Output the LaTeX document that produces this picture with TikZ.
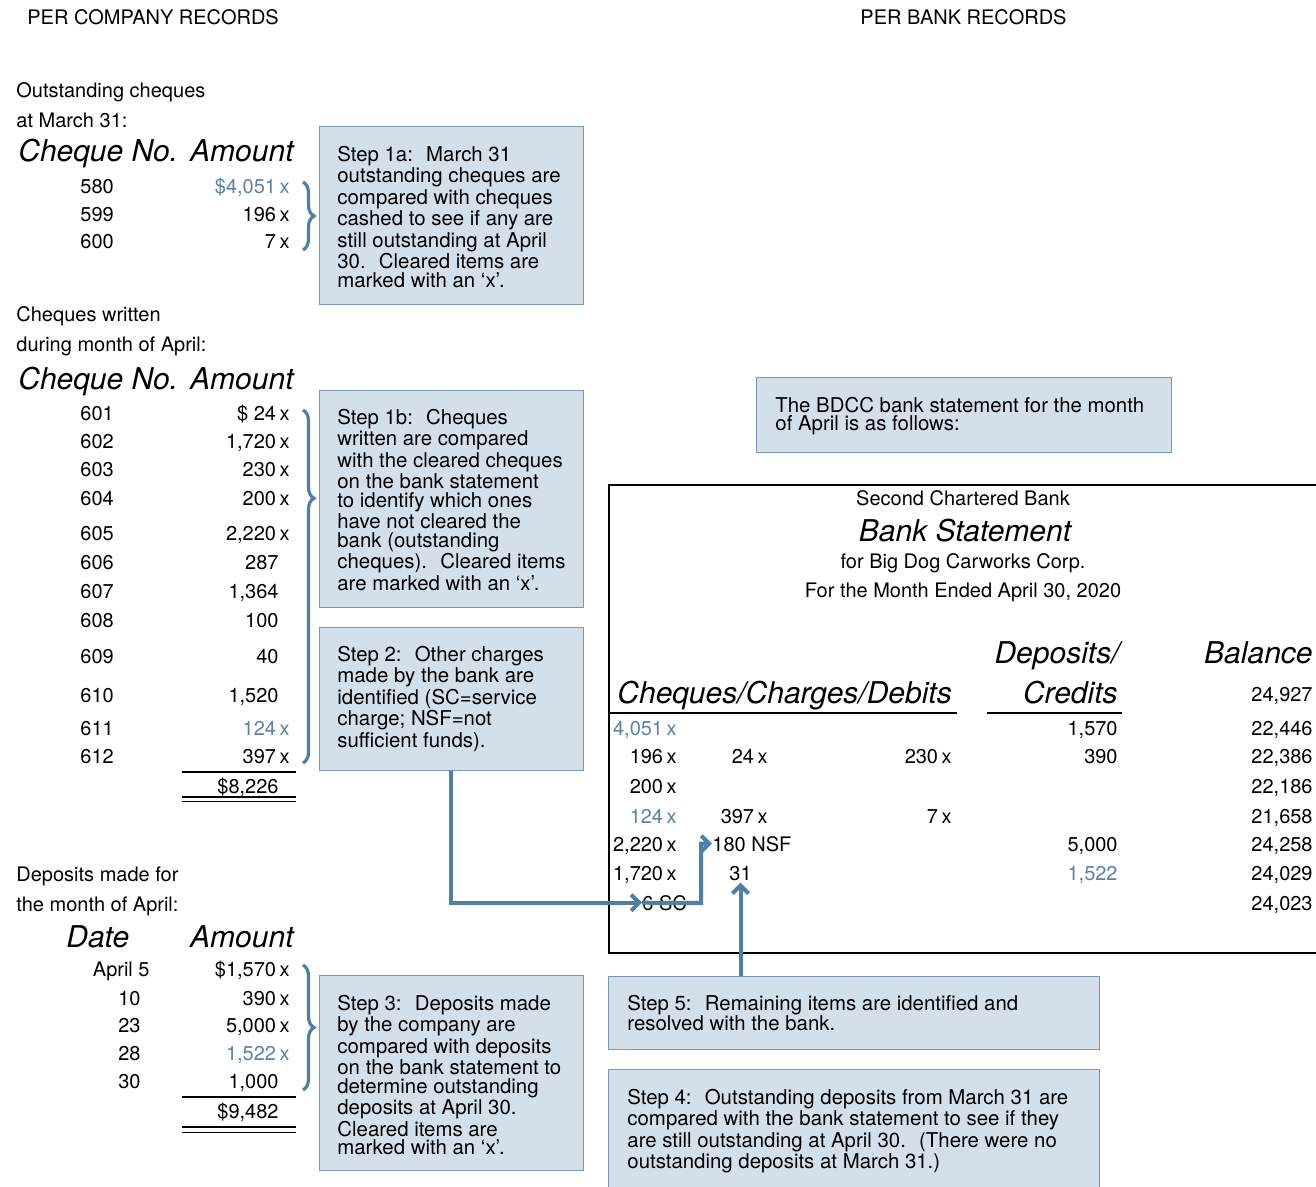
\documentclass[tikz,border=0pt]{standalone}
\usepackage{fontspec}
\setmainfont{TeX Gyre Heros}
\usetikzlibrary{positioning, fit, arrows.meta, decorations.pathreplacing}
\definecolor{markblue}{RGB}{86,131,172}
\definecolor{linkblue}{RGB}{79,126,166}
\definecolor{boxfill}{RGB}{211,223,233}
\definecolor{boxline}{RGB}{120,152,185}
\newcommand{\xm}{\hspace{1.75pt}x}

\begin{document}
\begin{tikzpicture}[x=0.5pt, y=-0.5pt,
    every node/.style={inner sep=0pt, font=\fontsize{10}{10.75}\selectfont},
    txt/.style={anchor=base west},
    num/.style={anchor=base east},
    head/.style={anchor=base west, font=\fontsize{15}{18}\selectfont\itshape},
    stepbox/.style={draw=boxline, fill=boxfill, line width=0.5pt},
    steptext/.style={anchor=north west, align=left, font=\fontsize{10.2}{10.75}\selectfont},
    cbrace/.style={draw=linkblue, line width=1.6pt, decorate, decoration={brace, amplitude=5.5pt}},
    flow/.style={draw=linkblue, line width=2pt, -{Straight Barb[length=4pt, width=8pt]}},
    rule/.style={line width=0.8pt}]
    \useasboundingbox (0,0) rectangle (1316,1187);
    \clip (0,0) rectangle (1316,1187);

    % titles
    \node[txt] (compHead) at (27,25) {PER COMPANY RECORDS};
    \node[txt] (bankHead) at (860,25) {PER BANK RECORDS};

    % outstanding cheques at March 31
    \node[txt] (osLabA) at (16,98) {Outstanding cheques};
    \node[txt] (osLabB) at (16,128) {at March 31:};
    \node[head] (osNo) at (18,162) {Cheque No.};
    \node[head, anchor=base east] (osAmt) at (294,162) {Amount};
    \foreach \no/\y/\amt/\rx/\col in {580/194/{\$4,051\xm}/290/markblue,
        599/222/{196\xm}/290/black, 600/249/{7\xm}/290/black}{
      \node[txt] (os\no) at (80,\y) {\no};
      \node[num, text=\col] (osa\no) at (\rx,\y) {\amt};
    }
    \draw[cbrace] (303,182) -- (303,250);

    % cheques written in April
    \node[txt] (cwLabA) at (16,322) {Cheques written};
    \node[txt] (cwLabB) at (16,352) {during month of April:};
    \node[head] (cwNo) at (18,389) {Cheque No.};
    \node[head, anchor=base east] (cwAmt) at (294,389) {Amount};
    \foreach \no/\y/\amt/\rx/\col in {601/421/{\$ 24\xm}/290/black,
        602/448/{1,720\xm}/290/black, 603/476/{230\xm}/290/black,
        604/505/{200\xm}/290/black, 605/540/{2,220\xm}/290/black,
        606/569/{287}/279/black, 607/598/{1,364}/279/black,
        608/627/{100}/279/black, 609/663/{40}/279/black,
        610/702/{1,520}/279/black, 611/735/{124\xm}/290/markblue,
        612/763/{397\xm}/290/black}{
      \node[txt] (cw\no) at (80,\y) {\no};
      \node[num, text=\col] (cwa\no) at (\rx,\y) {\amt};
    }
    \draw[cbrace, decoration={aspect=0.25}] (303,410) -- (303,763);
    \draw[rule] (182,772) -- (296,772);
    \node[num] (cwTot) at (279,793) {\$8,226};
    \draw[rule] (182,797) -- (296,797) (182,801.5) -- (296,801.5);

    % deposits in April
    \node[txt] (dpLabA) at (16,881) {Deposits made for};
    \node[txt] (dpLabB) at (16,911) {the month of April:};
    \node[head] (dpDate) at (66,947) {Date};
    \node[head, anchor=base east] (dpAmt) at (294,947) {Amount};
    \foreach \d/\dx/\y/\amt/\rx/\col [count=\i] in {{April 5}/150/976/{\$1,570\xm}/290/black,
        10/141/1005/{390\xm}/290/black, 23/141/1032/{5,000\xm}/290/black,
        28/141/1060/{1,522\xm}/290/markblue, 30/141/1088/{1,000}/279/black}{
      \node[num] (dp\i) at (\dx,\y) {\d};
      \node[num, text=\col] (dpa\i) at (\rx,\y) {\amt};
    }
    \draw[cbrace] (303,965) -- (303,1090);
    \draw[rule] (182,1097) -- (296,1097);
    \node[num] (dpTot) at (279,1118) {\$9,482};
    \draw[rule] (182,1127) -- (296,1127) (182,1132.5) -- (296,1132.5);

    % step boxes
    \node[stepbox, fit={(319,127) (583,305)}] (stepOneA) {};
    \node[steptext] (stepOneAText) at (337,145.5) {Step 1a:~ March 31\\
      outstanding cheques are\\ compared with cheques\\ cashed to see if any are\\
      still outstanding at April\\ 30.~ Cleared items are\\[-1.5pt] marked with an ‘x’.};
    \node[stepbox, fit={(319,390) (583,607)}] (stepOneB) {};
    \node[steptext] (stepOneBText) at (337,408.5) {Step 1b:~ Cheques\\
      written are compared\\ with the cleared cheques\\ on the bank statement\\[-1.5pt]
      to identify which ones\\ have not cleared the\\[-1.5pt] bank (outstanding\\
      cheques).~ Cleared items\\ are marked with an ‘x’.};
    \node[stepbox, fit={(319,627) (583,770)}] (stepTwo) {};
    \node[steptext] (stepTwoText) at (337,645.5) {Step 2:~ Other charges\\
      made by the bank are\\ identified (SC=service\\ charge; NSF=not\\
      sufficient funds).};
    \node[stepbox, fit={(319,975) (583,1170)}] (stepThree) {};
    \node[steptext] (stepThreeText) at (337,994.5) {Step 3:~ Deposits made\\
      by the company are\\ compared with deposits\\ on the bank statement to\\[-1.5pt]
      determine outstanding\\ deposits at April 30.\\ Cleared items are\\[-1.5pt]
      marked with an ‘x’.};
    \node[stepbox, fit={(756,378) (1171,452)}] (bdcc) {};
    \node[steptext] (bdccText) at (775,396.5) {The BDCC bank statement for the month\\[-1.5pt]
      of April is as follows:};
    \node[stepbox, fit={(608,976) (1099,1049)}] (stepFive) {};
    \node[steptext] (stepFiveText) at (627,994.5) {Step 5:~ Remaining items are identified and\\[-0.75pt]
      resolved with the bank.};
    \node[stepbox, fit={(608,1069) (1099,1200)}] (stepFour) {};
    \node[steptext] (stepFourText) at (627,1088.5) {Step 4:~ Outstanding deposits from March 31 are\\
      compared with the bank statement to see if they\\
      are still outstanding at April 30.~ (There were no\\
      outstanding deposits at March 31.)};

    % bank statement
    \draw[line width=1pt] (1330,485) -| (609,953) -- (1330,953);
    \node[anchor=base] (bkName) at (963,505) {Second Chartered Bank};
    \node[head, anchor=base] (bkTitle) at (965,541) {Bank Statement};
    \node[anchor=base] (bkFor) at (963,568) {for Big Dog Carworks Corp.};
    \node[anchor=base] (bkMonth) at (963,597) {For the Month Ended April 30, 2020};
    \node[head] (bkDebits) at (617,703) {Cheques/Charges/Debits};
    \node[head, anchor=base east] (bkDepA) at (1120,663) {Deposits/};
    \node[head, anchor=base east] (bkDepB) at (1118,703) {Credits};
    \node[head, anchor=base east] (bkBal) at (1313,663) {Balance};
    \draw[rule] (609,713) -- (957,713);
    \draw[rule] (987,713) -- (1122,713);

    \foreach \y/\bal [count=\i] in {701/{24,927}, 735/{22,446}, 763/{22,386},
        793/{22,186}, 823/{21,658}, 851/{24,258}, 880/{24,029}, 910/{24,023}}
      \node[num] (bal\i) at (1313,\y) {\bal};
    \foreach \rx/\y/\amt/\col [count=\i] in {677/735/{4,051\xm}/markblue,
        677/763/{196\xm}/black, 677/793/{200\xm}/black, 677/823/{124\xm}/markblue,
        677/851/{2,220\xm}/black, 677/880/{1,720\xm}/black,
        768/763/{24\xm}/black, 768/823/{397\xm}/black,
        952/763/{230\xm}/black, 952/823/{7\xm}/black}
      \node[num, text=\col] (deb\i) at (\rx,\y) {\amt};
    \foreach \y/\amt/\col [count=\i] in {735/{1,570}/black, 763/{390}/black,
        851/{5,000}/black, 880/{1,522}/markblue}
      \node[num, text=\col] (cred\i) at (1118,\y) {\amt};
    \node[txt] (nsf) at (712,851) {180 NSF};
    \node[txt] (thirtyOne) at (729,880) {31};
    \node[txt] (sc) at (642,910) {6 SC};

    % connectors
    \coordinate (bend) at (701,903);
    \draw[flow] (stepTwo.south) |- (sc.west);
    \draw[flow] (sc.west) -- (bend) |- (nsf.west);
    \draw[flow] (stepFive.north -| thirtyOne.south) -- ([yshift=-1pt]thirtyOne.south);
\end{tikzpicture}
\end{document}
